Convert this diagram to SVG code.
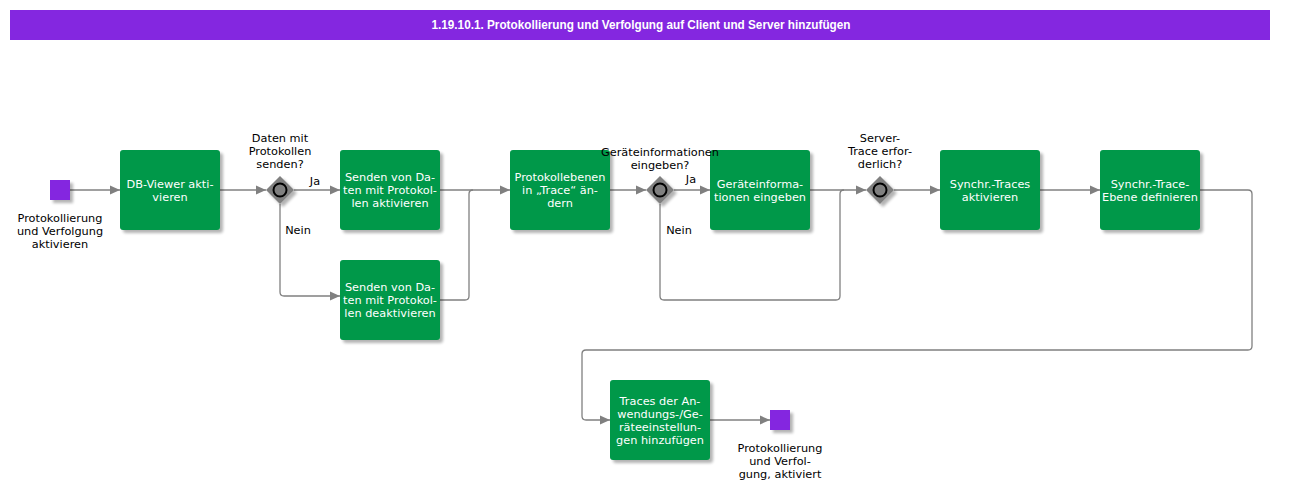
<svg xmlns="http://www.w3.org/2000/svg" width="1302" height="499" viewBox="0 0 1302 499">
<style>
.task{fill:#00984A}
.txt{font-family:"DejaVu Sans",Verdana,sans-serif;font-size:11.3px;text-anchor:middle}
.w{fill:#ffffff}
.b{fill:#000000}
.ev{fill:#8427E0}
.gw{fill:#808080}
.gc{fill:#808080;stroke:#000;stroke-width:2}
.con{fill:none;stroke:#808080;stroke-width:1.3}
.title{font-family:"Liberation Sans Narrow","Liberation Sans",Arial,sans-serif;font-weight:bold;font-size:12.5px;fill:#fff;text-anchor:middle}
</style>
<defs>
<filter id="sh" x="-20%" y="-20%" width="150%" height="150%">
<feGaussianBlur in="SourceAlpha" stdDeviation="1.5"/>
<feOffset dx="3" dy="3" result="o"/>
<feComponentTransfer><feFuncA type="linear" slope="0.3"/></feComponentTransfer>
<feMerge><feMergeNode/><feMergeNode in="SourceGraphic"/></feMerge>
</filter>
<marker id="ar" markerWidth="11" markerHeight="10" refX="10" refY="5" orient="auto" markerUnits="userSpaceOnUse">
<path d="M0,0.5 L10,5 L0,9.5 Z" fill="#808080"/>
</marker>
</defs>

<g id="header">
<rect x="10" y="10" width="1260" height="30" fill="#8427E0"/>
<text class="title" x="641" y="29" textLength="419" lengthAdjust="spacingAndGlyphs">1.19.10.1. Protokollierung und Verfolgung auf Client und Server hinzufügen</text>
</g>

<g id="connectors">
<path class="con" marker-end="url(#ar)" d="M70,190 H120"/>
<path class="con" marker-end="url(#ar)" d="M220,190 H266"/>
<path class="con" marker-end="url(#ar)" d="M294,190 H340"/>
<path class="con" marker-end="url(#ar)" d="M280,204 V292 Q280,296 284,296 H340"/>
<path class="con" marker-end="url(#ar)" d="M440,190 H510"/>
<path class="con" d="M440,300 H465 Q469,300 469,296 V194 Q469,190 473,190"/>
<path class="con" marker-end="url(#ar)" d="M610,190 H646"/>
<path class="con" marker-end="url(#ar)" d="M674,190 H710"/>
<path class="con" d="M660,204 V296 Q660,300 664,300 H836 Q840,300 840,296 V194 Q840,190 844,190"/>
<path class="con" marker-end="url(#ar)" d="M810,190 H866"/>
<path class="con" marker-end="url(#ar)" d="M894,190 H940"/>
<path class="con" marker-end="url(#ar)" d="M1040,190 H1100"/>
<path class="con" marker-end="url(#ar)" d="M1200,190 H1248 Q1252,190 1252,194 V346 Q1252,350 1248,350 H586 Q582,350 582,354 V416 Q582,420 586,420 H610"/>
<path class="con" marker-end="url(#ar)" d="M710,420 H770"/>
<text class="txt b" x="315" y="185">Ja</text>
<text class="txt b" x="298" y="234">Nein</text>
<text class="txt b" x="691" y="183">Ja</text>
<text class="txt b" x="679" y="234">Nein</text>
</g>

<g id="start">
<rect class="ev" x="50" y="180" width="20" height="20" filter="url(#sh)"/>
<text class="txt b" x="60" y="222">Protokollierung</text>
<text class="txt b" x="60" y="235">und Verfolgung</text>
<text class="txt b" x="60" y="248">aktivieren</text>
</g>

<g id="t1">
<rect class="task" x="120" y="150" width="100" height="80" rx="3" filter="url(#sh)"/>
<text class="txt w" x="170" y="187.5">DB-Viewer akti-</text>
<text class="txt w" x="170" y="200.5">vieren</text>
</g>

<g id="g1">
<path class="gw" d="M280,176 L294,190 L280,204 L266,190 Z" filter="url(#sh)"/>
<circle class="gc" cx="280" cy="190" r="6.5"/>
<text class="txt b" x="280" y="142">Daten mit</text>
<text class="txt b" x="280" y="155">Protokollen</text>
<text class="txt b" x="280" y="168">senden?</text>
</g>

<g id="t2">
<rect class="task" x="340" y="150" width="100" height="80" rx="3" filter="url(#sh)"/>
<text class="txt w" x="390" y="181">Senden von Da-</text>
<text class="txt w" x="390" y="194">ten mit Protokol-</text>
<text class="txt w" x="390" y="207">len aktivieren</text>
</g>

<g id="t3">
<rect class="task" x="340" y="260" width="100" height="80" rx="3" filter="url(#sh)"/>
<text class="txt w" x="390" y="291">Senden von Da-</text>
<text class="txt w" x="390" y="304">ten mit Protokol-</text>
<text class="txt w" x="390" y="317">len deaktivieren</text>
</g>

<g id="t4">
<rect class="task" x="510" y="150" width="100" height="80" rx="3" filter="url(#sh)"/>
<text class="txt w" x="560" y="181">Protokollebenen</text>
<text class="txt w" x="560" y="194">in „Trace“ än-</text>
<text class="txt w" x="560" y="207">dern</text>
</g>

<g id="t5">
<rect class="task" x="710" y="150" width="100" height="80" rx="3" filter="url(#sh)"/>
<text class="txt w" x="760" y="187.5">Geräteinforma-</text>
<text class="txt w" x="760" y="200.5">tionen eingeben</text>
</g>

<g id="g2">
<path class="gw" d="M660,176 L674,190 L660,204 L646,190 Z" filter="url(#sh)"/>
<circle class="gc" cx="660" cy="190" r="6.5"/>
<text class="txt b" x="660" y="156">Geräteinformationen</text>
<text class="txt b" x="660" y="169">eingeben?</text>
</g>

<g id="g3">
<path class="gw" d="M880,176 L894,190 L880,204 L866,190 Z" filter="url(#sh)"/>
<circle class="gc" cx="880" cy="190" r="6.5"/>
<text class="txt b" x="880" y="142">Server-</text>
<text class="txt b" x="880" y="155">Trace erfor-</text>
<text class="txt b" x="880" y="168">derlich?</text>
</g>

<g id="t6">
<rect class="task" x="940" y="150" width="100" height="80" rx="3" filter="url(#sh)"/>
<text class="txt w" x="990" y="187.5">Synchr.-Traces</text>
<text class="txt w" x="990" y="200.5">aktivieren</text>
</g>

<g id="t7">
<rect class="task" x="1100" y="150" width="100" height="80" rx="3" filter="url(#sh)"/>
<text class="txt w" x="1150" y="187.5">Synchr.-Trace-</text>
<text class="txt w" x="1150" y="200.5">Ebene definieren</text>
</g>

<g id="t8">
<rect class="task" x="610" y="380" width="100" height="80" rx="3" filter="url(#sh)"/>
<text class="txt w" x="660" y="404.5">Traces der An-</text>
<text class="txt w" x="660" y="417.5">wendungs-/Ge-</text>
<text class="txt w" x="660" y="430.5">räteeinstellun-</text>
<text class="txt w" x="660" y="443.5">gen hinzufügen</text>
</g>

<g id="end">
<rect class="ev" x="770" y="410" width="20" height="20" filter="url(#sh)"/>
<text class="txt b" x="780" y="452">Protokollierung</text>
<text class="txt b" x="780" y="465">und Verfol-</text>
<text class="txt b" x="780" y="478">gung, aktiviert</text>
</g>
</svg>
